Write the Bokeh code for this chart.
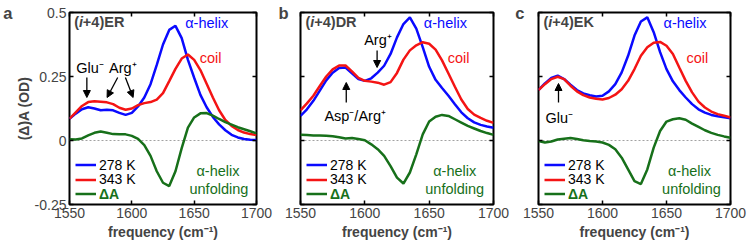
from bokeh.plotting import figure
from bokeh.models import (Range1d, Label, Arrow, NormalHead, Span, Legend, LegendItem,
                          LinearAxis, FixedTicker)
from bokeh.layouts import row
from bokeh.embed import file_html
from bokeh.resources import INLINE

# ---------------- data ----------------
wavenumber = list(range(1550, 1701, 5))

er_278 = [0.085, 0.105, 0.122, 0.130, 0.125, 0.118, 0.120, 0.118, 0.108, 0.100, 0.108,
          0.133, 0.168, 0.220, 0.295, 0.375, 0.432, 0.448, 0.400, 0.315, 0.245, 0.178,
          0.130, 0.092, 0.063, 0.040, 0.022, 0.012, 0.006, 0.003, 0.002]
er_343 = [0.085, 0.110, 0.135, 0.150, 0.153, 0.151, 0.149, 0.142, 0.128, 0.120, 0.125,
          0.138, 0.146, 0.150, 0.160, 0.185, 0.232, 0.280, 0.320, 0.336, 0.315, 0.275,
          0.222, 0.168, 0.118, 0.080, 0.057, 0.041, 0.031, 0.025, 0.021]
er_dA = [0.005, 0.004, 0.008, 0.020, 0.030, 0.035, 0.030, 0.025, 0.024, 0.024, 0.018,
         0.006, -0.018, -0.060, -0.120, -0.165, -0.178, -0.120, -0.030, 0.050, 0.090, 0.106,
         0.107, 0.097, 0.084, 0.072, 0.062, 0.052, 0.044, 0.036, 0.028]

dr_278 = [0.096, 0.122, 0.155, 0.195, 0.235, 0.265, 0.283, 0.285, 0.262, 0.240, 0.233,
          0.243, 0.265, 0.292, 0.338, 0.403, 0.455, 0.481, 0.437, 0.365, 0.288, 0.237,
          0.205, 0.175, 0.142, 0.110, 0.087, 0.071, 0.061, 0.055, 0.050]
dr_343 = [0.118, 0.145, 0.175, 0.213, 0.250, 0.278, 0.293, 0.293, 0.270, 0.245, 0.233,
          0.230, 0.226, 0.218, 0.228, 0.264, 0.316, 0.352, 0.372, 0.384, 0.378, 0.355,
          0.313, 0.262, 0.210, 0.160, 0.123, 0.101, 0.088, 0.077, 0.069]
dr_dA = [0.022, 0.021, 0.020, 0.020, 0.019, 0.017, 0.013, 0.008, 0.010, 0.006, 0.001,
         -0.015, -0.034, -0.060, -0.100, -0.145, -0.168, -0.125, -0.054, 0.024, 0.074, 0.093,
         0.100, 0.096, 0.083, 0.070, 0.057, 0.047, 0.037, 0.029, 0.022]

ek_278 = [0.197, 0.223, 0.244, 0.253, 0.240, 0.218, 0.197, 0.184, 0.177, 0.172, 0.175,
          0.192, 0.220, 0.266, 0.331, 0.410, 0.465, 0.481, 0.423, 0.345, 0.279, 0.231,
          0.197, 0.168, 0.142, 0.122, 0.109, 0.100, 0.095, 0.091, 0.087]
ek_343 = [0.197, 0.220, 0.240, 0.249, 0.240, 0.214, 0.192, 0.177, 0.168, 0.163, 0.160,
          0.166, 0.179, 0.200, 0.233, 0.279, 0.331, 0.364, 0.382, 0.385, 0.370, 0.338,
          0.285, 0.233, 0.188, 0.152, 0.129, 0.113, 0.103, 0.097, 0.090]
ek_dA = [-0.002, -0.008, -0.004, 0.004, 0.007, 0.010, 0.006, 0.001, -0.002, -0.004, -0.008,
         -0.017, -0.034, -0.067, -0.113, -0.159, -0.170, -0.113, -0.028, 0.037, 0.074, 0.083,
         0.087, 0.081, 0.066, 0.053, 0.040, 0.030, 0.022, 0.016, 0.011]

x_ticks = [1550, 1600, 1650, 1700]
y_ticks = [-0.25, 0, 0.25, 0.5]
y_tick_labels = {-0.25: "-0.25", 0: "0", 0.25: "0.25", 0.5: "0.5"}
series_labels = ["278 K", "343 K", "ΔA"]

# ---------------- styling ----------------
FONT = "Liberation Sans"
BLUE = "#0a0aff"
RED = "#f41414"
GREEN = "#17701a"
H = 247
TOP = 12
BOTTOM = 43
FH = H - TOP - BOTTOM
F_BOTTOM = TOP + FH


def silent_axis(ticks):
    return LinearAxis(ticker=FixedTicker(ticks=ticks), major_label_text_font_size="1px",
                      major_label_text_color=None, major_label_standoff=0,
                      axis_line_color=None, major_tick_in=4, major_tick_out=0,
                      major_tick_line_width=1.5, minor_tick_line_color=None,
                      minor_tick_in=0, minor_tick_out=0)


def letter_axis(letter, standoff):
    return LinearAxis(ticker=FixedTicker(ticks=[0.5]), major_label_overrides={0.5: letter},
                      major_label_text_font=FONT, major_label_text_font_style="bold",
                      major_label_text_font_size="16.5px", major_label_standoff=standoff,
                      axis_line_color=None, major_tick_line_color=None,
                      major_tick_in=0, major_tick_out=0,
                      minor_tick_line_color=None, minor_tick_in=0, minor_tick_out=0)


def make_panel(lb, fw, rb, f_left, data, letter, title_rest, annotations, arrows, first):
    W = lb + fw + rb

    def dx(px):
        return 1550 + (px - f_left) * 150.0 / fw

    def dy(py):
        return 0.5 - (py - TOP) * 0.75 / FH

    p = figure(width=W, height=H, x_range=Range1d(1550, 1700), y_range=Range1d(-0.25, 0.5),
               output_backend="svg", toolbar_location=None,
               min_border_left=lb, min_border_right=rb, min_border_top=TOP, min_border_bottom=BOTTOM)
    p.grid.visible = False
    p.outline_line_color = "black"
    p.outline_line_width = 2
    p.outline_line_alpha = 1
    p.background_fill_color = "white"
    p.border_fill_color = "white"

    xa = p.xaxis[0]
    xa.ticker = FixedTicker(ticks=x_ticks)
    xa.axis_label = "frequency (cm⁻¹)"
    xa.axis_label_text_font = FONT
    xa.axis_label_text_font_style = "bold"
    xa.axis_label_text_font_size = "14px"
    xa.axis_label_standoff = 3
    xa.major_label_text_font = FONT
    xa.major_label_text_font_size = "14px"
    xa.major_label_standoff = 3
    xa.axis_line_color = None
    xa.major_tick_in = 4
    xa.major_tick_out = 0
    xa.major_tick_line_width = 1.5
    xa.minor_tick_line_color = None
    xa.minor_tick_out = 0

    ya = p.yaxis[0]
    ya.ticker = FixedTicker(ticks=y_ticks)
    ya.axis_line_color = None
    ya.major_tick_in = 4
    ya.major_tick_out = 0
    ya.major_tick_line_width = 1.5
    ya.minor_tick_line_color = None
    ya.minor_tick_out = 0
    if first:
        ya.major_label_overrides = y_tick_labels
        ya.major_label_text_font = FONT
        ya.major_label_text_font_size = "14px"
        ya.major_label_standoff = 3
        # y-axis title on its own (tick-less) axis, then the panel letter outermost
        ta = LinearAxis(ticker=FixedTicker(ticks=[]), axis_label="(Δ)A (OD)",
                        axis_label_text_font=FONT, axis_label_text_font_style="bold",
                        axis_label_text_font_size="14px", axis_label_standoff=0,
                        axis_label_text_line_height=1.0,
                        major_label_standoff=0, axis_line_color=None,
                        major_tick_line_color=None, major_tick_in=0, major_tick_out=0,
                        minor_tick_line_color=None, minor_tick_in=0, minor_tick_out=0)
        p.add_layout(ta, "left")
        p.add_layout(letter_axis(letter[0], 0), "left")
    else:
        ya.major_label_text_font_size = "1px"
        ya.major_label_text_color = None
        ya.major_label_standoff = 0
        p.add_layout(letter_axis(letter[0], int(f_left - letter[2]) - 1), "left")

    p.add_layout(silent_axis(y_ticks), "right")
    p.add_layout(silent_axis(x_ticks), "above")

    p.add_layout(Span(location=0, dimension="width", line_color="#8a8a8a",
                      line_width=0.8, line_dash="2 2", level="underlay"))

    blue, red, green = data
    r_b = p.line(wavenumber, blue, line_color=BLUE, line_width=2.5)
    r_r = p.line(wavenumber, red, line_color=RED, line_width=2.5)
    r_g = p.line(wavenumber, green, line_color=GREEN, line_width=2.5)

    # legend: one Legend per entry so that the rows sit where the reference has them
    rows = [(series_labels[0], r_b, 164.5, "black", "normal"),
            (series_labels[1], r_r, 179.0, "black", "normal"),
            (series_labels[2], r_g, 193.3, GREEN, "bold")]
    for lab, rend, cy, tcol, tstyle in rows:
        leg = Legend(items=[LegendItem(label=lab, renderers=[rend])],
                     location=(6, F_BOTTOM - cy - 8.25), orientation="vertical",
                     border_line_color=None, background_fill_alpha=0,
                     padding=0, margin=0, spacing=0,
                     glyph_width=21, glyph_height=13, label_height=13, label_standoff=3,
                     label_text_font=FONT, label_text_font_size="14px",
                     label_text_line_height=1.0,
                     label_text_color=tcol, label_text_font_style=tstyle)
        p.add_layout(leg)

    tx = f_left + 5
    fs = 14.5
    for txt, style, w in [("(", "bold", 0.333), ("i", "bold italic", 0.278), (title_rest, "bold", 0)]:
        p.add_layout(Label(x=dx(tx), y=dy(21.5), text=txt, text_font=FONT, text_font_style=style,
                           text_font_size="14.5px", text_baseline="middle", text_align="left"))
        tx += w * fs

    for (txt, px, py, color, align) in annotations:
        p.add_layout(Label(x=dx(px), y=dy(py), text=txt, text_color=color, text_font=FONT,
                           text_font_size="14.5px", text_baseline="middle", text_align=align))
    for (x0, y0, x1, y1) in arrows:
        p.add_layout(Arrow(x_start=dx(x0), y_start=dy(y0), x_end=dx(x1), y_end=dy(y1),
                           line_width=1.3, line_color="black",
                           end=NormalHead(size=7, fill_color="black", line_color="black", line_width=1)))
    return p


pa = make_panel(62, 194, 19, 62, (er_278, er_343, er_dA), ("a", 1, 10), "+4)ER",
                [("α-helix", 182, 22.5, BLUE, "left"),
                 ("coil", 197, 57, RED, "left"),
                 ("Glu⁻", 69, 67, "black", "left"),
                 ("Arg⁺", 103, 67, "black", "left"),
                 ("α-helix", 216, 170, GREEN, "center"),
                 ("unfolding", 217, 188, GREEN, "center")],
                [(80, 77, 80, 97), (112, 77, 101, 97), (120, 77, 128, 97)],
                True)

pb = make_panel(24, 194, 17, 299, (dr_278, dr_343, dr_dA), ("b", 277, 286), "+4)DR",
                [("α-helix", 423, 22.5, BLUE, "left"),
                 ("coil", 447, 57, RED, "left"),
                 ("Arg⁺", 363, 39, "black", "left"),
                 ("Asp⁻/Arg⁺", 323, 115, "black", "left"),
                 ("α-helix", 454, 170, GREEN, "center"),
                 ("unfolding", 454, 188, GREEN, "center")],
                [(376, 50, 376, 67), (345, 102, 345, 82)],
                False)

pc = make_panel(28, 192, 17, 538, (ek_278, ek_343, ek_dA), ("c", 513, 523), "+4)EK",
                [("α-helix", 663, 22.5, BLUE, "left"),
                 ("coil", 686, 57, RED, "left"),
                 ("Glu⁻", 545, 117, "black", "left"),
                 ("α-helix", 689, 170, GREEN, "center"),
                 ("unfolding", 691, 188, GREEN, "center")],
                [(558, 102, 558, 83)],
                False)

layout = row(pa, pb, pc)
open("out.html", "w").write(file_html(layout, INLINE))
